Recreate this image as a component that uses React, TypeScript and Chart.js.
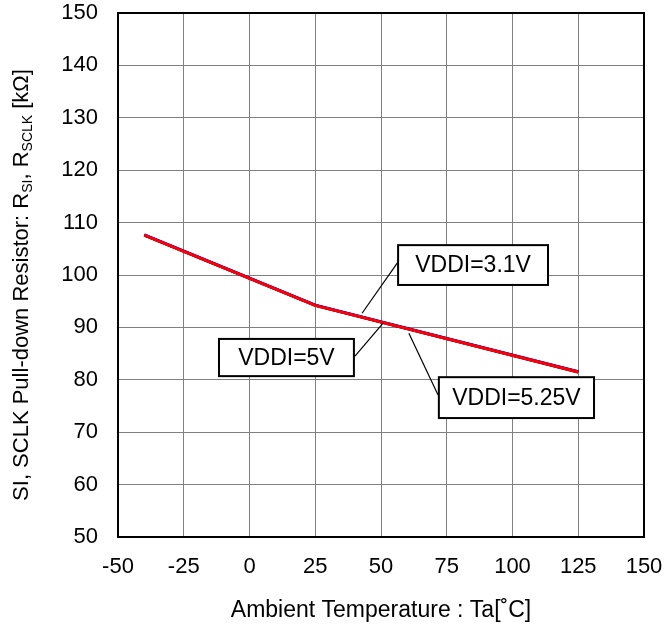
import React, { useEffect, useRef } from "react";
import { Chart, registerables } from "chart.js";

Chart.register(...registerables);

const temps = [-40, 25, 125];
const vddi31 = [107.6, 94.2, 81.5];
const vddi5 = [107.65, 94.25, 81.55];
const vddi525 = [107.6, 94.2, 81.5];

const xTicks = [-50, -25, 0, 25, 50, 75, 100, 125, 150];
const yTicks = [50, 60, 70, 80, 90, 100, 110, 120, 130, 140, 150];

// annotation labels and boxes/leaders in data units
const annLabels = ["VDDI=3.1V", "VDDI=5V", "VDDI=5.25V"];
const annBoxes = [
  [56.5, 105.7, 113.5, 98.1],
  [-11.6, 87.8, 39.7, 80.7],
  [72, 80.5, 131, 72.7],
];
const annLeaders = [
  [56.5, 102.5, 42.8, 92.7],
  [40.1, 84.5, 50.8, 90.8],
  [60.6, 88.9, 71.7, 77.1],
];

const FONT = "'Liberation Sans', Arial, sans-serif";

const annotationPlugin = {
  id: "annots",
  afterDatasetsDraw(chart: any) {
    const ctx = chart.ctx;
    const xs = chart.scales.x;
    const ys = chart.scales.y;
    const a = chart.chartArea;
    ctx.save();
    ctx.strokeStyle = "#000";
    ctx.lineWidth = 2;
    ctx.strokeRect(a.left, a.top, a.right - a.left, a.bottom - a.top);
    annLeaders.forEach((l) => {
      ctx.beginPath();
      ctx.strokeStyle = "#000";
      ctx.lineWidth = 1.2;
      ctx.moveTo(xs.getPixelForValue(l[0]), ys.getPixelForValue(l[1]));
      ctx.lineTo(xs.getPixelForValue(l[2]), ys.getPixelForValue(l[3]));
      ctx.stroke();
    });
    annBoxes.forEach((b, i) => {
      const x0 = xs.getPixelForValue(b[0]);
      const y0 = ys.getPixelForValue(b[1]);
      const x1 = xs.getPixelForValue(b[2]);
      const y1 = ys.getPixelForValue(b[3]);
      ctx.fillStyle = "#fff";
      ctx.fillRect(x0, y0, x1 - x0, y1 - y0);
      ctx.strokeStyle = "#000";
      ctx.lineWidth = 2;
      ctx.strokeRect(x0, y0, x1 - x0, y1 - y0);
      ctx.fillStyle = "#000";
      ctx.font = `23px ${FONT}`;
      ctx.textAlign = "center";
      ctx.textBaseline = "middle";
      ctx.fillText(annLabels[i], (x0 + x1) / 2, (y0 + y1) / 2 + 1);
    });
    ctx.restore();
  },
  afterDraw(chart: any) {
    // y-axis title with subscripts
    const ctx = chart.ctx;
    const area = chart.chartArea;
    const parts: [string, boolean][] = [
      ["SI, SCLK Pull-down Resistor: R", false],
      ["SI", true],
      [", R", false],
      ["SCLK", true],
      [" [kΩ]", false],
    ];
    const big = `22px ${FONT}`;
    const small = `14px ${FONT}`;
    ctx.save();
    let total = 0;
    parts.forEach(([t, sub]) => {
      ctx.font = sub ? small : big;
      total += ctx.measureText(t).width;
    });
    ctx.translate(22, (area.top + area.bottom) / 2 + 10);
    ctx.rotate(-Math.PI / 2);
    ctx.fillStyle = "#000";
    ctx.textAlign = "left";
    ctx.textBaseline = "middle";
    let x = -total / 2;
    parts.forEach(([t, sub]) => {
      ctx.font = sub ? small : big;
      ctx.fillText(t, x, sub ? 6 : 0);
      x += ctx.measureText(t).width;
    });
    ctx.restore();
  },
};

export default function App() {
  const ref = useRef<HTMLCanvasElement>(null);
  useEffect(() => {
    document.body.style.margin = "0";
    const mk = (vals: number[]) => temps.map((t, i) => ({ x: t, y: vals[i] }));
    const chart = new Chart(ref.current!, {
      type: "line",
      data: {
        datasets: [
          { label: "VDDI=5.25V", data: mk(vddi525), borderColor: "#ff0000", borderWidth: 3, pointRadius: 0, tension: 0 },
          { label: "VDDI=5V", data: mk(vddi5), borderColor: "#0000ff", borderWidth: 3, pointRadius: 0, tension: 0 },
          { label: "VDDI=3.1V", data: mk(vddi31), borderColor: "#000000", borderWidth: 3, pointRadius: 0, tension: 0 },
        ],
      },
      options: {
        animation: false,
        responsive: false,
        layout: { padding: { top: 13, right: 20, left: 0, bottom: 0 } },
        plugins: { legend: { display: false }, tooltip: { enabled: false } },
        scales: {
          x: {
            type: "linear",
            min: -50,
            max: 150,
            afterBuildTicks: (s: any) => { s.ticks = xTicks.map((v) => ({ value: v })); },
            afterFit: (s: any) => { s.height = 91; s.paddingLeft = 0; s.paddingRight = 0; },
            grid: { color: "#808080", lineWidth: 1, drawTicks: false },
            border: { color: "#000", width: 2 },
            ticks: { color: "#000", font: { family: FONT, size: 22 }, padding: 17, maxRotation: 0 },
            title: { display: true, text: "Ambient Temperature : Ta[˚C]", color: "#000", font: { family: FONT, size: 23 }, padding: { top: 12 } },
          },
          y: {
            type: "linear",
            min: 50,
            max: 150,
            afterBuildTicks: (s: any) => { s.ticks = yTicks.map((v) => ({ value: v })); },
            afterFit: (s: any) => { s.width = 118; s.paddingTop = 0; s.paddingBottom = 0; },
            grid: { color: "#808080", lineWidth: 1, drawTicks: false },
            border: { color: "#000", width: 2 },
            ticks: { color: "#000", font: { family: FONT, size: 22 }, padding: 20 },
          },
        },
      },
      plugins: [annotationPlugin],
    });
    return () => chart.destroy();
  }, []);
  return <canvas ref={ref} width={664} height={628} style={{ display: "block" }} />;
}
